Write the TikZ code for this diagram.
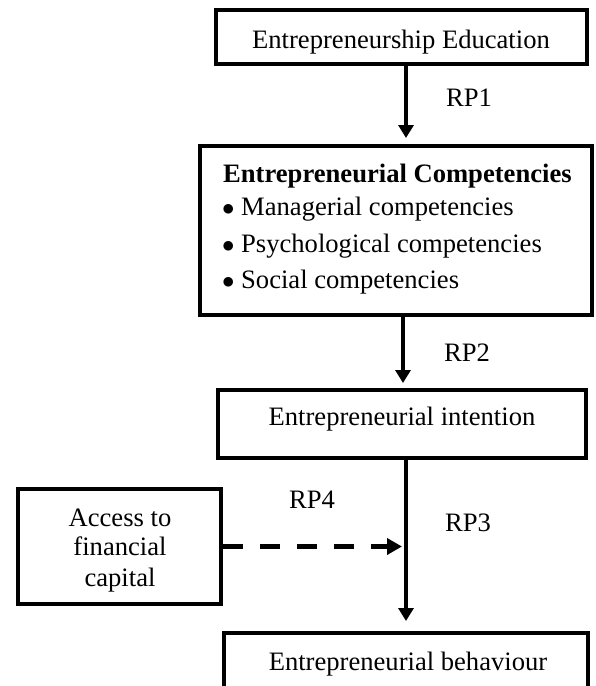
\documentclass[tikz,border=0pt]{standalone}
\usepackage{fontspec}
\setmainfont{Liberation Serif}
\usetikzlibrary{arrows.meta}

\tikzset{
  box/.style={draw, line width=4pt, rectangle, inner sep=0pt},
  txt/.style={inner sep=0pt, anchor=base, font=\fontsize{26.6pt}{32pt}\selectfont},
  ltxt/.style={txt, anchor=base west},
  flow/.style={line width=4pt, -{Triangle[width=15pt,length=13pt]}},
  moderate/.style={line width=5pt, dash pattern=on 20pt off 17pt,
    -{Triangle[width=16pt,length=15pt]}},
}
\newcommand{\itemdot}{\makebox[18pt][l]{\hspace*{-1pt}$\bullet$}}

\begin{document}
\begin{tikzpicture}[x=1pt, y=-1pt]
  \useasboundingbox (0,0) rectangle (595,686);
  \clip (0,0) rectangle (595,686);

  % boxes
  \node[box, minimum width=371pt, minimum height=54pt]  (edu)    at (401.5,37)   {};
  \node[box, minimum width=392pt, minimum height=169pt] (comp)   at (396,230.5)  {};
  \node[box, minimum width=368pt, minimum height=68pt]  (intent) at (402,424)    {};
  \node[box, minimum width=203pt, minimum height=115pt] (access) at (119.5,546.5) {};
  \node[box, minimum width=364pt, minimum height=67pt]  (behav)  at (406,666.5)  {};

  % box texts
  \node[txt] (eduT) at (401,48) {Entrepreneurship Education};
  \node[ltxt] (compH) at (223,182) {\textbf{Entrepreneurial Competencies}};
  \node[ltxt] (compA) at (223,215) {\itemdot Managerial competencies};
  \node[ltxt] (compB) at (223,252.5) {\itemdot Psychological competencies};
  \node[ltxt] (compC) at (223,288.5) {\itemdot Social competencies};
  \node[txt] (intentT) at (402,425) {Entrepreneurial intention};
  \node[txt] (accA) at (120,526) {Access to};
  \node[txt] (accB) at (120,555.5) {financial};
  \node[txt] (accC) at (120,586) {capital};
  \node[txt] (behavT) at (408,670) {Entrepreneurial behaviour};

  % path labels
  \node[txt] (rp1) at (469,106) {RP1};
  \node[txt] (rp2) at (467,361.5) {RP2};
  \node[txt] (rp3) at (468,531.5) {RP3};
  \node[txt] (rp4) at (312,508) {RP4};

  % connectors
  \draw[flow, shorten >=6pt] ([xshift=4.5pt]edu.south) -- ([xshift=10pt]comp.north);
  \draw[flow, shorten >=5pt] ([xshift=7pt]comp.south) -- ([xshift=1pt]intent.south |- intent.north);
  \coordinate (vline) at ([xshift=4pt]intent.south);
  \draw[flow, shorten >=10pt] (vline) -- (behav.north);
  \draw[moderate, shorten >=4pt] (access.east) -- (access.east -| vline);
\end{tikzpicture}
\end{document}
